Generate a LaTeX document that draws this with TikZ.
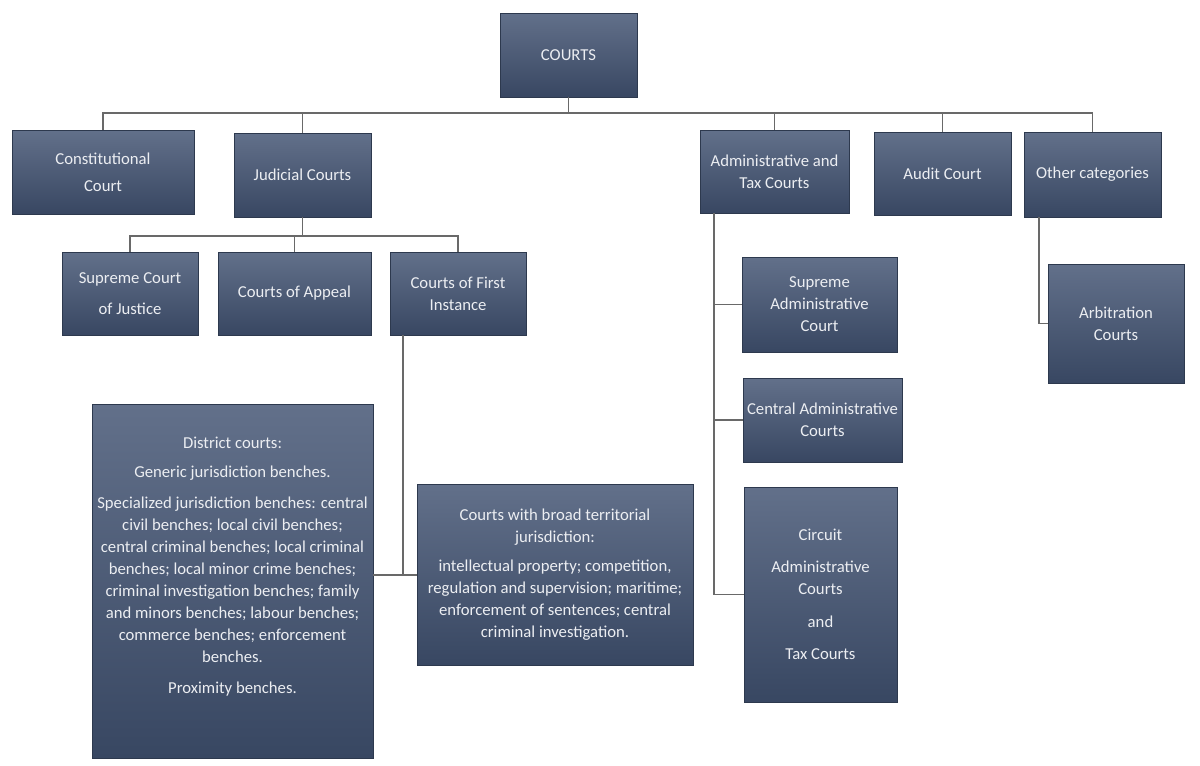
\documentclass[tikz,border=0pt]{standalone}
\usepackage{fontspec}
\setmainfont{Carlito}
\usetikzlibrary{shadows}
\definecolor{boxtop}{RGB}{98,112,138}
\definecolor{boxbot}{RGB}{56,71,98}
\definecolor{boxtext}{RGB}{236,238,242}
\definecolor{wire}{RGB}{105,105,105}
\begin{document}
\begin{tikzpicture}[x=0.02cm, y=-0.02cm,
	court/.style={rectangle, top color=boxtop, bottom color=boxbot, draw=boxbot!80!black, very thin,
		text=boxtext, align=center, inner sep=2pt, font=\fontsize{9.5}{12.5}\selectfont,
		drop shadow={opacity=0.35, shadow xshift=0.6pt, shadow yshift=-0.8pt}},
	wh/.style 2 args={minimum width=#1*0.02cm, minimum height=#2*0.02cm},
	link/.style={draw=wire, line width=0.85pt}]
	%\draw[help lines] (0,0) grid (1200,765);
	\useasboundingbox (0,0) rectangle (1200,765);
	% top level
	\node[court, wh={137}{84}] (courts) at (568.5,55) {COURTS};
	\node[court, wh={182}{84}] (const) at (103,172) {Constitutional\\[3pt] Court};
	\node[court, wh={137}{84}] (judic) at (302.5,175) {Judicial Courts};
	\node[court, wh={149}{83}] (admin) at (774.5,171.5) {Administrative and\\ Tax Courts};
	\node[court, wh={137}{83}] (audit) at (942.5,173.5) {Audit Court};
	\node[court, wh={137}{85}] (other) at (1092.5,174.5) {Other categories};
	% judicial courts
	\node[court, wh={136}{83}] (supj) at (130,293.5) {Supreme Court\\[5pt] of Justice};
	\node[court, wh={153}{83}] (appeal) at (294.5,293.5) {Courts of Appeal};
	\node[court, wh={136}{83}] (first) at (458,293.5) {Courts of First\\ Instance};
	\node[court, wh={281}{354}, text depth=18pt] (district) at (232.5,581) {District courts:\\[4pt]
		Generic jurisdiction benches.\\[5pt]
		Specialized jurisdiction benches: central\\
		civil benches; local civil benches;\\
		central criminal benches; local criminal\\
		benches; local minor crime benches;\\
		criminal investigation benches; family\\
		and minors benches; labour benches;\\
		commerce benches; enforcement\\
		benches.\\[5pt]
		Proximity benches.};
	\node[court, wh={276}{181}] (broad) at (555,574.5) {Courts with broad territorial\\
		jurisdiction:\\[4pt]
		intellectual property; competition,\\
		regulation and supervision; maritime;\\
		enforcement of sentences; central\\
		criminal investigation.};
	% administrative and tax courts
	\node[court, wh={155}{95}] (supadm) at (819.5,304.5) {Supreme\\ Administrative\\ Court};
	\node[court, wh={159}{84}] (central) at (822.5,420) {Central Administrative\\ Courts};
	\node[court, wh={153}{215}] (circuit) at (820.5,594.5) {Circuit\\[6pt] Administrative\\ Courts\\[6pt] and\\[6pt] Tax Courts};
	\node[court, wh={136}{119}] (arbit) at (1116,323.5) {Arbitration\\ Courts};
	% connectors
	\coordinate (bus) at (568.5,113);
	\coordinate (jbus) at (302.5,236);
	\coordinate (fi) at (403,335);
	\coordinate (fj) at (403,575);
	\coordinate (at) at (714,213);
	\coordinate (ot) at (1039,217);
	\draw[link] (courts.south) -- (bus);
	\draw[link] (const.north) |- (bus) -| (other.north);
	\foreach \n in {judic, admin, audit}{
		\draw[link] (\n.north) -- (\n.north |- bus);
	}
	\draw[link] (judic.south) -- (jbus);
	\draw[link] (supj.north) |- (jbus) -| (first.north);
	\draw[link] (appeal.north) -- (appeal.north |- jbus);
	\draw[link] (fi) -- (fj);
	\draw[link] (district.east |- fj) -- (broad.west |- fj);
	\draw[link] (at) |- (circuit.west);
	\foreach \n in {supadm, central}{
		\draw[link] (at |- \n.west) -- (\n.west);
	}
	\draw[link] (ot) |- (arbit.west);
\end{tikzpicture}
\end{document}
